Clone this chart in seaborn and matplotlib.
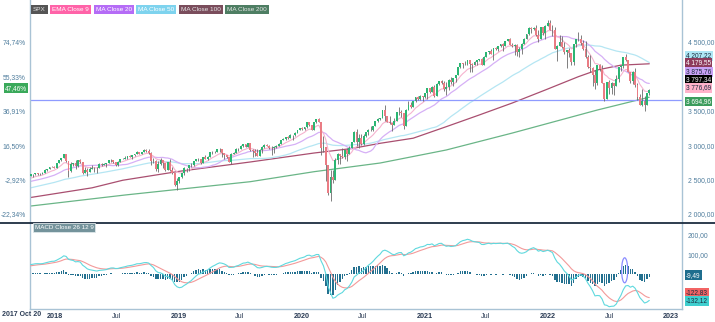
import numpy as np
import pandas as pd
import matplotlib
matplotlib.use("Agg")
import matplotlib.pyplot as plt
import matplotlib.dates as mdates
from matplotlib.patches import Ellipse
from matplotlib.lines import Line2D
import seaborn as sns

# ---------------- data (weekly SPX, Friday week ends) ----------------
pre_close = [2141, 2126, 2085, 2164, 2182, 2213, 2192, 2259, 2258, 2263, 2239,
             2277, 2275, 2271, 2295, 2297, 2316, 2351, 2367, 2383, 2372, 2378, 2344, 2363,
             2355, 2329, 2349, 2384, 2399, 2391, 2382, 2416, 2439, 2432, 2433, 2438, 2423,
             2425, 2459, 2473, 2472, 2477, 2441, 2426, 2443, 2477, 2461, 2500, 2502, 2519,
             2549, 2553]

c2017 = [2575, 2581, 2588, 2582, 2579, 2602, 2642, 2652, 2676, 2683, 2674]
h2017 = [2575, 2582, 2588, 2597, 2590, 2605, 2657, 2652, 2680, 2694, 2692]
l2017 = [2547, 2544, 2566, 2568, 2566, 2582, 2601, 2624, 2650, 2676, 2673]

c2018 = [2743, 2786, 2810, 2873, 2762, 2620, 2732, 2747, 2691, 2786, 2752, 2588, 2641,
         2604, 2656, 2670, 2670, 2663, 2728, 2712, 2721, 2735, 2779, 2780, 2755, 2718,
         2760, 2801, 2802, 2819, 2840, 2833, 2850, 2875, 2902, 2872, 2905, 2930, 2914,
         2886, 2767, 2768, 2659, 2723, 2781, 2736, 2633, 2760, 2633, 2600, 2417, 2486]
h2018 = [2743, 2787, 2810, 2873, 2870, 2763, 2755, 2747, 2790, 2786, 2802, 2752, 2676,
         2673, 2680, 2718, 2683, 2677, 2733, 2743, 2742, 2736, 2779, 2791, 2774, 2750,
         2764, 2805, 2816, 2848, 2841, 2863, 2855, 2876, 2916, 2902, 2906, 2941, 2940,
         2940, 2893, 2817, 2778, 2767, 2816, 2782, 2746, 2760, 2800, 2686, 2601, 2520]
l2018 = [2683, 2743, 2768, 2808, 2759, 2533, 2608, 2691, 2647, 2682, 2745, 2585, 2593,
         2553, 2605, 2660, 2612, 2594, 2662, 2702, 2708, 2676, 2737, 2755, 2742, 2698,
         2699, 2766, 2791, 2801, 2795, 2830, 2802, 2848, 2876, 2864, 2873, 2897, 2903,
         2874, 2710, 2738, 2628, 2603, 2716, 2671, 2631, 2649, 2621, 2583, 2409, 2347]

c2019 = [2532, 2596, 2671, 2665, 2707, 2708, 2776, 2793, 2804, 2743, 2822, 2801, 2834,
         2893, 2907, 2905, 2940, 2946, 2881, 2860, 2826, 2752, 2873, 2887, 2950, 2942,
         2990, 3014, 2977, 3026, 2932, 2919, 2889, 2847, 2926, 2979, 3007, 2992, 2962,
         2952, 2970, 2986, 3023, 3067, 3093, 3120, 3110, 3141, 3146, 3169, 3221, 3241]
h2019 = [2539, 2597, 2675, 2672, 2709, 2738, 2776, 2793, 2816, 2804, 2830, 2861, 2836,
         2893, 2910, 2917, 2940, 2954, 2931, 2892, 2851, 2830, 2884, 2896, 2964, 2959,
         2996, 3014, 3018, 3028, 3029, 2943, 2943, 2939, 2940, 2985, 3021, 3022, 3003,
         2983, 2993, 3008, 3027, 3067, 3098, 3121, 3127, 3154, 3147, 3183, 3226, 3248]
l2019 = [2444, 2524, 2570, 2612, 2631, 2681, 2701, 2766, 2775, 2722, 2735, 2800, 2785,
         2853, 2875, 2891, 2898, 2900, 2825, 2801, 2806, 2750, 2729, 2873, 2882, 2912,
         2953, 2976, 2976, 2975, 2914, 2822, 2840, 2835, 2853, 2891, 2964, 2985, 2945,
         2856, 2892, 2962, 2987, 3024, 3068, 3078, 3091, 3108, 3070, 3134, 3183, 3223]

c2020 = [3235, 3265, 3330, 3295, 3226, 3328, 3380, 3338, 2954, 2972, 2711, 2305, 2541,
         2489, 2790, 2875, 2837, 2831, 2930, 2864, 2955, 3044, 3194, 3041, 3097, 3009,
         3130, 3185, 3224, 3216, 3271, 3351, 3373, 3397, 3508, 3427, 3341, 3319, 3298,
         3348, 3477, 3484, 3465, 3270, 3510, 3585, 3558, 3638, 3699, 3663, 3709, 3703]
h2020 = [3258, 3268, 3330, 3338, 3285, 3342, 3385, 3393, 3337, 3137, 2882, 2562, 2637,
         2641, 2818, 2880, 2871, 2965, 2933, 2955, 2981, 3049, 3211, 3233, 3156, 3154,
         3166, 3185, 3233, 3280, 3273, 3352, 3387, 3399, 3509, 3588, 3425, 3428, 3320,
         3397, 3482, 3550, 3502, 3464, 3521, 3646, 3628, 3644, 3701, 3712, 3727, 3712]
l2020 = [3212, 3214, 3251, 3280, 3214, 3234, 3316, 3328, 2855, 2901, 2479, 2281, 2192,
         2448, 2536, 2726, 2728, 2817, 2798, 2767, 2909, 2970, 3044, 2985, 2965, 3004,
         2999, 3116, 3142, 3210, 3200, 3273, 3330, 3363, 3397, 3349, 3330, 3313, 3209,
         3323, 3354, 3441, 3413, 3233, 3279, 3511, 3543, 3558, 3618, 3647, 3648, 3637]

c2021 = [3756, 3825, 3768, 3841, 3714, 3887, 3934, 3907, 3811, 3842, 3943, 3913, 3975,
         4020, 4129, 4185, 4180, 4181, 4233, 4174, 4156, 4204, 4230, 4247, 4167, 4281,
         4352, 4370, 4327, 4412, 4395, 4437, 4468, 4442, 4509, 4535, 4459, 4433, 4455,
         4357, 4391, 4471, 4545, 4605, 4697, 4682, 4698, 4595, 4538, 4712, 4620, 4726, 4766]
h2021 = [3760, 3826, 3823, 3861, 3870, 3894, 3937, 3950, 3928, 3915, 3960, 3983, 3979,
         4021, 4130, 4191, 4194, 4219, 4238, 4237, 4188, 4218, 4234, 4249, 4262, 4287,
         4355, 4372, 4393, 4415, 4429, 4442, 4470, 4480, 4513, 4545, 4548, 4486, 4466,
         4466, 4429, 4476, 4560, 4608, 4718, 4715, 4718, 4744, 4672, 4713, 4705, 4740, 4808]
l2021 = [3690, 3663, 3750, 3765, 3694, 3730, 3874, 3885, 3789, 3723, 3806, 3885, 3853,
         3917, 4034, 4118, 4118, 4167, 4168, 4057, 4062, 4155, 4168, 4218, 4164, 4165,
         4271, 4321, 4321, 4234, 4382, 4367, 4424, 4368, 4451, 4514, 4459, 4428, 4306,
         4288, 4278, 4322, 4473, 4551, 4595, 4630, 4672, 4585, 4495, 4532, 4600, 4532, 4733]

c2022 = [4677, 4663, 4398, 4432, 4501, 4419, 4349, 4385, 4329, 4204, 4463, 4543,
         4546, 4488, 4393, 4272, 4132, 4123, 4024, 3901, 4158, 4109, 3901, 3675, 3912,
         3825, 3899, 3863, 3962, 4130, 4145, 4280, 4228, 4058, 3924, 4067, 3873, 3693,
         3586, 3640, 3583, 3753, 3797.34]
h2022 = [4819, 4749, 4713, 4453, 4596, 4589, 4489, 4386, 4402, 4328, 4466, 4546,
         4637, 4594, 4521, 4513, 4308, 4307, 4128, 4091, 4160, 4177, 4164, 3838, 3913,
         3950, 3918, 3903, 4013, 4140, 4167, 4280, 4325, 4203, 4062, 4077, 4119, 3907,
         3736, 3807, 3711, 3762, 3812]
l2022 = [4663, 4582, 4395, 4223, 4436, 4402, 4324, 4115, 4280, 4157, 4162, 4425,
         4506, 4450, 4381, 4267, 4124, 4063, 3859, 3811, 3875, 4074, 3900, 3637, 3675,
         3739, 3742, 3721, 3863, 3911, 4079, 4113, 4218, 4057, 3907, 3887, 3838, 3647,
         3584, 3572, 3491, 3590, 3733]

# long moving averages
ma100_dates = ["2017-10-20", "2018-04-20", "2018-07-20", "2019-01-04", "2019-08-02",
               "2020-02-07", "2020-05-29", "2020-08-21", "2020-11-27", "2021-03-05",
               "2021-06-11", "2021-09-17", "2021-12-24", "2022-04-01", "2022-05-27",
               "2022-08-05", "2022-10-28"]
ma100_vals = [2240, 2380, 2490, 2620, 2755, 2885, 2950, 3026, 3100, 3267, 3437, 3611,
              3800, 3993, 4090, 4160, 4179.55]
ma200_dates = ["2017-10-20", "2018-07-27", "2019-08-02", "2020-02-07", "2020-08-21",
               "2021-03-05", "2021-09-17", "2022-05-27", "2022-10-28"]
ma200_vals = [2116, 2276, 2469, 2614, 2740, 2929, 3175, 3509, 3694.96]

price_ticks = [4500, 3500, 3000, 2500, 2000]
price_tick_labels = ["4 500,00", "3 500,00", "3 000,00", "2 500,00", "2 000,00"]
pct_ticks = [4500, 4000, 3500, 3000, 2500, 2000]
pct_tick_labels = ["74,74%", "55,33%", "36,91%", "16,50%", "-2,92%", "-22,34%"]
macd_ticks = [200, 100]
macd_tick_labels = ["200,00", "100,00"]
x_ticks = ["2018-01-01", "2018-07-01", "2019-01-01", "2019-07-01", "2020-01-01",
           "2020-07-01", "2021-01-01", "2021-07-01", "2022-01-01", "2022-07-01", "2023-01-01"]
x_tick_labels = ["2018", "Jul", "2019", "Jul", "2020", "Jul", "2021", "Jul", "2022", "Jul", "2023"]
legend_names = ["SPX", "EMA Close 9", "MA Close 20", "MA Close 50", "MA Close 100", "MA Close 200"]
last_labels = ["4 207,22", "4 179,55", "3 875,76", "3 797,34", "3 776,69", "3 694,96"]
macd_labels = ["-9,49", "-122,83", "-132,12"]
ref_level = 3660

# ---------------- derived ----------------
closes = c2017 + c2018 + c2019 + c2020 + c2021 + c2022
highs = h2017 + h2018 + h2019 + h2020 + h2021 + h2022
lows = l2017 + l2018 + l2019 + l2020 + l2021 + l2022
dates = pd.date_range("2017-10-20", periods=len(closes), freq="W-FRI")
pre_dates = pd.date_range(end="2017-10-13", periods=len(pre_close), freq="W-FRI")
allc = pd.Series(pre_close + closes, index=pre_dates.append(dates), dtype=float)
opens = allc.shift(1).loc[dates].values
cl = np.array(closes, dtype=float)
hi = np.maximum(np.array(highs, float), np.maximum(cl, opens))
lo = np.minimum(np.array(lows, float), np.minimum(cl, opens))
ema9 = allc.ewm(span=9, adjust=False).mean().loc[dates]
ma20 = allc.rolling(20).mean().loc[dates]
ma50 = allc.rolling(50).mean().loc[dates]
ema12 = allc.ewm(span=12, adjust=False).mean()
ema26 = allc.ewm(span=26, adjust=False).mean()
macd = (ema12 - ema26)
signal = macd.ewm(span=9, adjust=False).mean()
hist = (macd - signal).loc[dates]
macd = macd.loc[dates]
signal = signal.loc[dates]

# ---------------- styling ----------------
sns.set_theme(style="white")
plt.rcParams["font.family"] = ["Liberation Sans", "DejaVu Sans"]

W, H = 715, 322
fig = plt.figure(figsize=(W / 100, H / 100), dpi=100)
L, R = 30, 682
main_top, main_bot = 0, 222.5
m_top, m_bot = 223, 309
ax = fig.add_axes([L / W, 1 - main_bot / H, (R - L) / W, (main_bot - main_top) / H])
axm = fig.add_axes([L / W, 1 - m_bot / H, (R - L) / W, (m_bot - m_top) / H], sharex=ax)

spine_c = "#a9c3d5"
tick_c = "#4f7d9d"
tick_fs = 4.9
xmin, xmax = pd.Timestamp("2017-10-18"), pd.Timestamp("2023-02-02")

# candles
up = cl >= opens
body_c = np.where(up, "#2bb673", "#ea7c84")
ax.vlines(dates, lo, hi, color="#6a6a6a", lw=0.6, zorder=2)
ax.bar(dates, cl - opens, bottom=opens, width=5.5, color=body_c, linewidth=0, zorder=3)

# moving averages
sns.lineplot(x=pd.to_datetime(ma200_dates), y=ma200_vals, ax=ax, color="#6ab587", lw=0.9, zorder=1)
sns.lineplot(x=pd.to_datetime(ma100_dates), y=ma100_vals, ax=ax, color="#a94f70", lw=0.9, zorder=1)
sns.lineplot(x=dates, y=ma50.values, ax=ax, color="#b5e6f3", lw=0.9, zorder=1)
sns.lineplot(x=dates, y=ma20.values, ax=ax, color="#d6b0f6", lw=0.9, zorder=1)
sns.lineplot(x=dates, y=ema9.values, ax=ax, color="#f6b3cf", lw=0.8, zorder=1)
ax.axhline(ref_level, color="#8f9bff", lw=0.9, zorder=1)

ax.set_xlim(xmin, xmax)
ax.set_ylim(1877, 5105)
ax.set_xlabel("")
ax.set_ylabel("")
ax.xaxis.label.set_visible(False)
ax.yaxis.label.set_visible(False)
ax.tick_params(axis="x", bottom=False, labelbottom=False)
for s in ["top", "bottom"]:
    ax.spines[s].set_visible(False)
for s in ["left", "right"]:
    ax.spines[s].set_color(spine_c)
    ax.spines[s].set_linewidth(1.0)

# percent scale on the left (twin), price scale on the right
tw = ax.twinx()
tw.set_ylim(ax.get_ylim())
tw.yaxis.tick_left()
tw.set_yticks(pct_ticks, pct_tick_labels)
tw.tick_params(axis="y", length=0, pad=3, labelsize=tick_fs, labelcolor=tick_c)
for s in tw.spines.values():
    s.set_visible(False)
tw.grid(False)
tw.yaxis.label.set_visible(False)

ax.yaxis.tick_right()
ax.set_yticks(price_ticks, price_tick_labels)
ax.tick_params(axis="y", left=False, labelleft=False, right=True, labelright=True,
               length=0, pad=4, labelsize=tick_fs, labelcolor=tick_c)

# MACD panel
axm.bar(dates, hist.values, width=4.2, color="#23708f", linewidth=0, zorder=2)
sns.lineplot(x=dates, y=signal.values, ax=axm, color="#f39a9a", lw=0.8, zorder=3)
sns.lineplot(x=dates, y=macd.values, ax=axm, color="#5fd9de", lw=0.8, zorder=4)
axm.add_patch(Ellipse((mdates.date2num(pd.Timestamp("2022-08-16")), 20), width=18, height=125,
                      fill=False, edgecolor="#8a8cff", lw=0.9, zorder=5))
axm.set_ylim(-173.5, 256.5)
axm.set_xlim(xmin, xmax)
axm.set_xlabel("")
axm.set_ylabel("")
axm.xaxis.label.set_visible(False)
axm.yaxis.label.set_visible(False)
axm.yaxis.tick_right()
axm.set_yticks(macd_ticks, macd_tick_labels)
axm.tick_params(axis="y", left=False, labelleft=False, length=0, pad=4, labelsize=tick_fs,
                labelcolor=tick_c)
axm.set_xticks(pd.to_datetime(x_ticks), x_tick_labels)
axm.tick_params(axis="x", length=2.5, width=0.8, color=spine_c, labelsize=5.2,
                labelcolor="#2b3c55", pad=0.5)
for lab in axm.get_xticklabels():
    if lab.get_text() != "Jul":
        lab.set_fontweight("bold")
axm.spines["top"].set_visible(False)
for s in ["left", "right", "bottom"]:
    axm.spines[s].set_color(spine_c)
    axm.spines[s].set_linewidth(1.0)
fig.text(2 / W, 1 - 315 / H, "2017 Oct 20", ha="left", va="center", fontsize=5.0,
         fontweight="bold", color="#2b3c55")

# separator line
fig.add_artist(Line2D([0, 1], [1 - 222.5 / H] * 2, color="#1c2d40", lw=1.3))

# legend tags
bg = ["#555555", "#ff63a8", "#b56cf6", "#7ed3ee", "#7a4d5c", "#4e7e63"]
fg = ["#e0e0e0", "white", "white", "white", "#e6e6e6", "#e6e6e6"]
fig.canvas.draw()
rend = fig.canvas.get_renderer()
xpos = 33
for name, b, f in zip(legend_names, bg, fg):
    t = fig.text(xpos / W, 1 - 9.5 / H, name, fontsize=4.6, color=f, va="center", ha="left",
                 bbox=dict(boxstyle="square,pad=0.3", fc=b, ec="none"))
    ext = t.get_window_extent(rend)
    xpos += ext.width + 6.5

# MACD title tag
fig.text(35 / W, 1 - 227.5 / H, "MACD Close 26 12 9", fontsize=4.5, color="white", va="center",
         ha="left", bbox=dict(boxstyle="square,pad=0.25", fc="#74939b", ec="#dfe8ea", lw=0.6))

# right value labels (main)
last_bg = ["#aee6f5", "#8e3b5c", "#c9a2f5", "#000000", "#ffb3cb", "#3b9c5d"]
last_fg = ["#1c2d40", "white", "#1c2d40", "white", "#1c2d40", "white"]
last_py = [55.7, 62.5, 71.7, 79.7, 87.7, 101.5]
for txt, b, f, py in zip(last_labels, last_bg, last_fg, last_py):
    fig.text(686 / W, 1 - py / H, txt, fontsize=4.7, color=f, va="center", ha="left",
             bbox=dict(boxstyle="square,pad=0.2", fc=b, ec="none"))
fig.text(5 / W, 1 - 88.3 / H, "47,46%", fontsize=4.7, color="white", va="center", ha="left",
         bbox=dict(boxstyle="square,pad=0.2", fc="#3aa95a", ec="none"))

macd_bg = ["#1f6e8e", "#f26464", "#3fcfcf"]
macd_fg = ["white", "#1c2d40", "#1c2d40"]
macd_py = [275.3, 293.0, 301.0]
for txt, b, f, py in zip(macd_labels, macd_bg, macd_fg, macd_py):
    fig.text(686 / W, 1 - py / H, txt, fontsize=4.7, color=f, va="center", ha="left",
             bbox=dict(boxstyle="square,pad=0.2", fc=b, ec="none"))

fig.savefig("out.png", dpi=100)
